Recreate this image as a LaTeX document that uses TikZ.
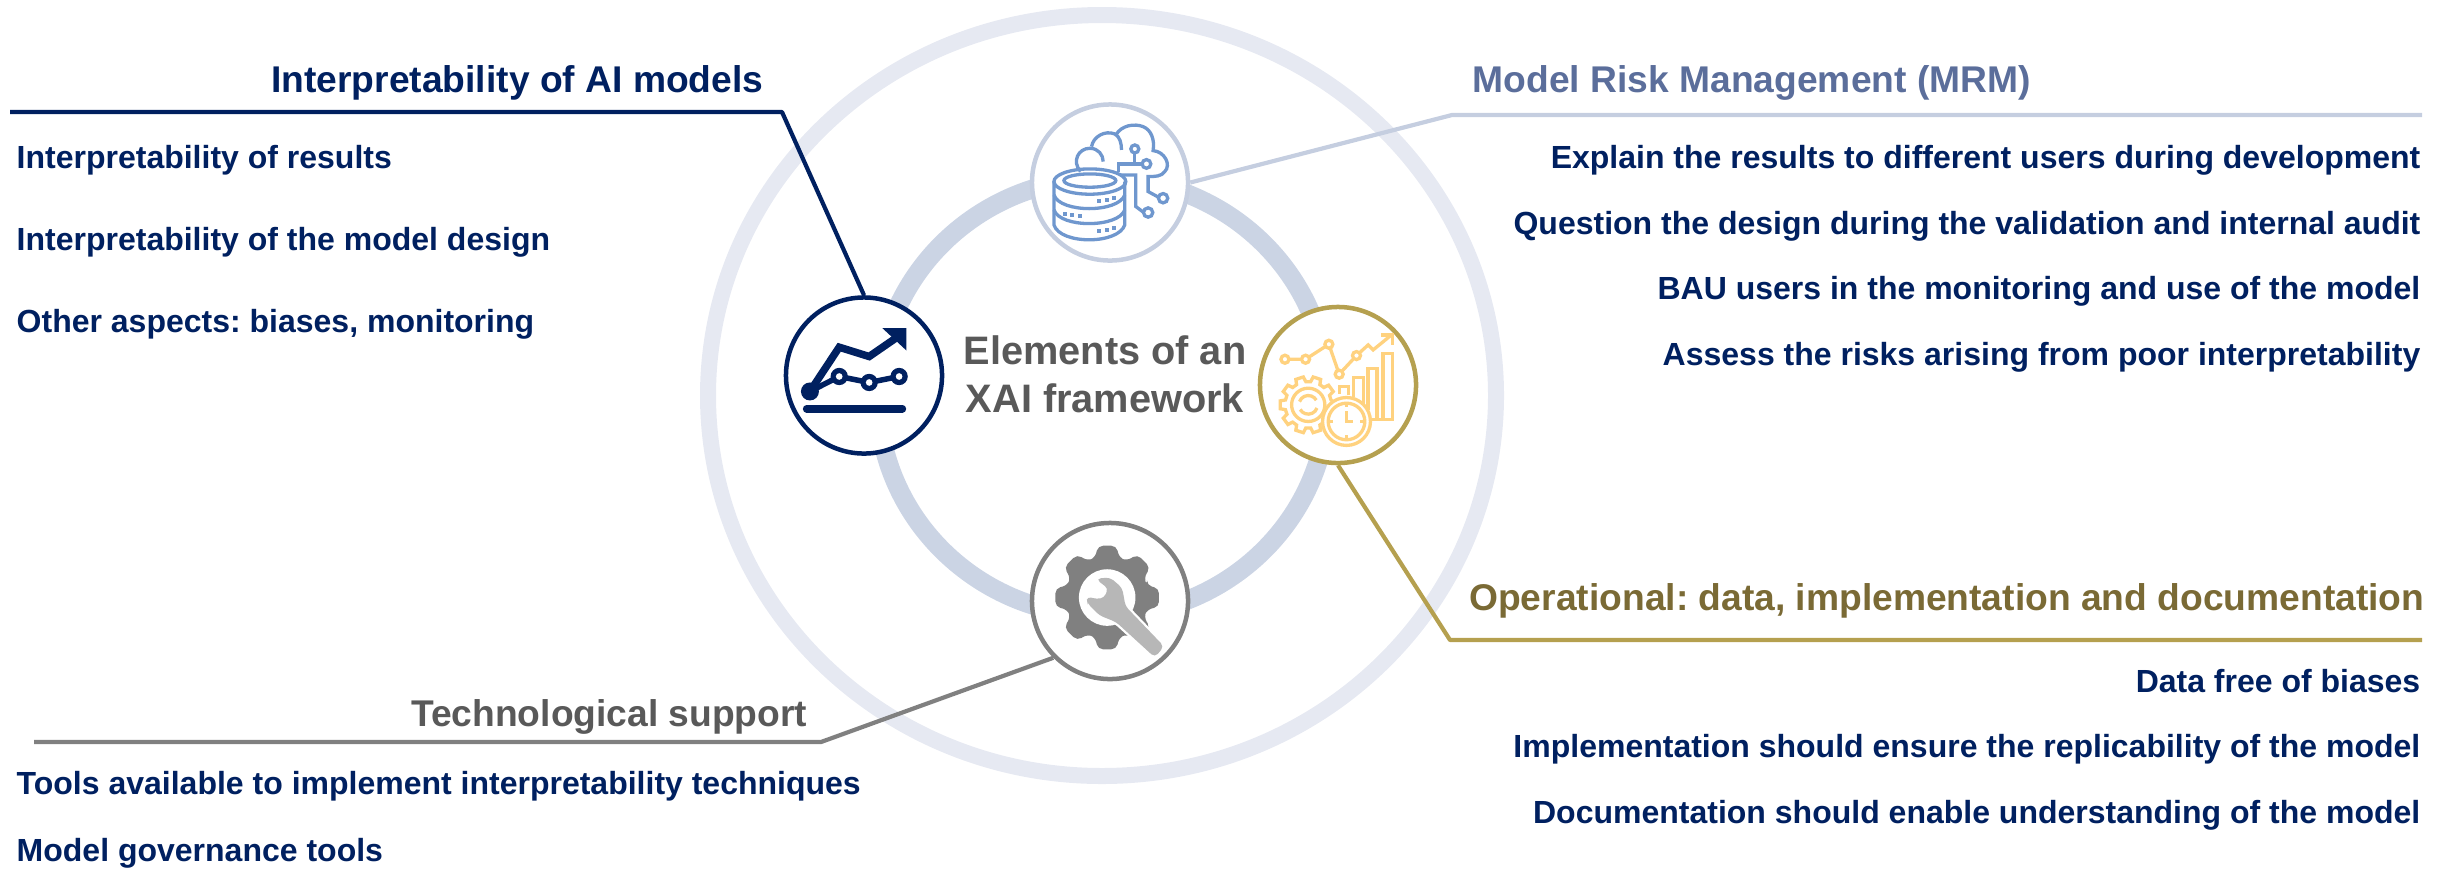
\documentclass[tikz,border=0pt]{standalone}
\usepackage{fontspec}
\setmainfont{Liberation Sans}
\frenchspacing
\usepackage{xcolor}
\usepackage{tikz}
\usetikzlibrary{calc}
\definecolor{navy}{HTML}{002060}
\definecolor{mrmline}{HTML}{C5CEE0}
\definecolor{mrmtext}{HTML}{5B6E9B}
\definecolor{goldline}{HTML}{B5A04F}
\definecolor{goldtext}{HTML}{7A6A35}
\definecolor{techline}{HTML}{808080}
\definecolor{techtext}{HTML}{595959}
\definecolor{outerring}{HTML}{E6E9F2}
\definecolor{innerring}{HTML}{CBD4E4}
\definecolor{cloudblue}{HTML}{6F97CE}
\definecolor{amber}{HTML}{FFD27F}
\definecolor{wrenchgray}{HTML}{B7B7B7}

\begin{document}
\begin{tikzpicture}[x=.01cm,y=-.01cm,font=\bfseries]
\tikzset{iconcircle/.style = {draw, circle, fill=white, line width=.45mm,
  minimum size=1.56cm, inner sep=0pt},
  title/.style = {inner sep=0pt, font=\fontsize{10.58}{13}\selectfont\bfseries},
  item/.style = {inner sep=0pt, text=navy, font=\fontsize{9.1}{11}\selectfont\bfseries},
  leader/.style = {line width=.42mm, line join=round},
  zoomed/.style = {x=.00333cm, y=-.00333cm}}
\pgfdeclarelayer{background}
\pgfdeclarelayer{foreground}
\pgfsetlayers{background,main,foreground}

\useasboundingbox (0,0) rectangle (2446,869);

  \begin{pgfonlayer}{background}
    \draw[outerring, line width=1.6mm] (1102,395.5) ellipse [x radius=394, y radius=380.5];
    \draw[innerring, line width=1.9mm] (1103,397) ellipse [x radius=225, y radius=219];
  \end{pgfonlayer}

  \begin{pgfonlayer}{foreground}
    \node[iconcircle, draw=navy] (interpcircle) at (864,375.5) {};
    \node[iconcircle, draw=mrmline] (mrmcircle) at (1110,182.5) {};
    \node[iconcircle, draw=goldline] (opcircle) at (1338,385) {};
    \node[iconcircle, draw=techline] (techcircle) at (1110,601) {};

    % chart icon
    \begin{scope}[shift={(760,260)}, zoomed]
      \draw[navy, line width=.75mm, line join=miter] (150,395) -- (238,262) -- (328,290) -- (412,232);
      \fill[navy] (368,205) -- (440,205) -- (440,272) -- cycle;
      \draw[navy, line width=.55mm] (150,395) -- (238,350) -- (328,368) -- (418,350);
      \fill[navy] (150,395) circle [radius=27];
      \foreach \px/\py in {238/350, 328/368, 418/350} {
        \fill[navy] (\px,\py) circle [radius=26];
        \fill[white] (\px,\py) circle [radius=10];
      }
      \draw[navy, line width=.75mm, line cap=round] (140,447) -- (428,447);
    \end{scope}

    % database and cloud icon
    \begin{scope}[shift={(1010,110)}, zoomed, cloudblue, line width=.33mm]
      \draw (240,215) ellipse [x radius=108, y radius=38];
      \draw (240,212) ellipse [x radius=78, y radius=20];
      \draw (132,215) -- (132,345) .. controls (150,405) and (325,405) .. (345,345) -- (345,215);
      \draw (132,255) .. controls (150,310) and (325,310) .. (345,255);
      \draw (132,300) .. controls (150,355) and (325,355) .. (345,300);
      \foreach \px/\py in {268/272, 290/270, 312/265, 165/312, 187/316, 210/318, 268/363, 290/362, 312/355}
        \fill (\px-6,\py-6) rectangle (\px+6,\py+6);
      \draw (212,185) .. controls (185,155) and (205,115) .. (240,115)
        .. controls (265,115) and (280,135) .. (280,155);
      \draw (245,110) .. controls (250,80) and (285,60) .. (315,72)
        .. controls (330,80) and (335,100) .. (335,120);
      \draw (318,75) .. controls (335,45) and (375,40) .. (400,50)
        .. controls (425,60) and (435,90) .. (430,122)
        .. controls (465,125) and (485,165) .. (465,185)
        .. controls (455,200) and (435,200) .. (415,200) -- (415,245) -- (448,263);
      \draw (375,128) -- (375,158);
      \draw (325,185) -- (325,162) -- (398,162);
      \draw (330,195) -- (378,195) -- (378,290) -- (402,308);
      \foreach \px/\py/\pr in {375/117/12, 410/162/13, 415/308/14, 460/265/14}
        \draw (\px,\py) circle [radius=\pr];
    \end{scope}

    % gear, clock and bars icon
    \begin{scope}[shift={(1240,290)}, zoomed, amber, line width=.33mm]
      \draw (135,208) -- (197,208) -- (267,163) -- (298,253) -- (350,197) -- (385,165) -- (400,180) -- (455,135);
      \draw (425,135) -- (458,135) -- (458,165);
      \foreach \px/\py in {135/208, 197/208, 267/163, 298/253, 350/197}
        \draw[fill=white] (\px,\py) circle [radius=12];
      \draw (430,390) -- (430,190) -- (458,190) -- (458,390) -- (395,390);
      \draw (385,360) -- (385,235) -- (412,235) -- (412,390);
      \draw (342,320) -- (342,262) -- (370,262) -- (370,345);
      \draw (298,312) -- (298,290) -- (325,290) -- (325,315);
      \begin{scope}[shift={(205,345)}]
        \draw[fill=white] (0:85) \foreach \gearangle in {0,36,...,324} {
          -- (\gearangle-8:85) -- (\gearangle+8:85) -- (\gearangle+12:70) -- (\gearangle+24:70) } -- cycle;
        \draw (0,0) circle [radius=50];
        \draw (20:28) arc (20:150:28);
        \draw (200:28) arc (200:330:28);
      \end{scope}
      \begin{scope}[shift={(320,395)}]
        \draw[fill=white] (0,0) circle [radius=72];
        \draw (0,0) circle [radius=55];
        \draw (0,-30) -- (0,0) -- (20,0);
        \foreach \tickangle in {0,90,180,270}
          \draw (\tickangle:55) -- (\tickangle:42);
      \end{scope}
    \end{scope}

    % gear and wrench icon
    \begin{scope}[shift={(1010,500)}, zoomed]
      \begin{scope}[shift={(292,293)}]
        \fill[techline, rounded corners=.5mm] (-17:125) \foreach \gearangle in {0,45,...,315} {
          -- (\gearangle-17:125) -- (\gearangle-10:158) -- (\gearangle+10:158) -- (\gearangle+17:125) } -- cycle;
        \fill[white] (0,0) circle [radius=85];
      \end{scope}
      \filldraw[wrenchgray, rounded corners=.4mm, preaction={draw=white, line width=.6mm}]
        (262,238) -- (300,235) -- (335,265) -- (345,320) -- (460,440) -- (435,470)
        -- (320,365) -- (270,345) -- (235,310) -- (232,292) -- (260,300) -- (285,295) -- (297,265) -- cycle;
    \end{scope}
  \end{pgfonlayer}

  % leaders from each circle to the free end of its rule
  \coordinate (interpelbow) at (782,112);
  \coordinate (interpend) at (10,112);
  \coordinate (mrmelbow) at (1452,115);
  \coordinate (mrmend) at (2422,115);
  \coordinate (opelbow) at (1450,640);
  \coordinate (opend) at (2422,640);
  \coordinate (techelbow) at (821,742);
  \coordinate (techend) at (34,742);
  \draw[leader, navy] (interpcircle.north) -- (interpelbow) -- (interpend);
  \draw[leader, mrmline] (mrmcircle.east) -- (mrmelbow) -- (mrmend);
  \draw[leader, goldline] (opcircle.south) -- (opelbow) -- (opend);
  \draw[leader, techline] (techcircle.south west) -- (techelbow) -- (techend);

  \node[title, text=navy, anchor=base east] (interptitle) at (764,92) {Interpretability of AI models};
  \node[item, anchor=base west] (interpa) at (16,168) {Interpretability of results};
  \node[item, anchor=base west] (interpb) at (16,250) {Interpretability of the model design};
  \node[item, anchor=base west] (interpc) at (16,332) {Other aspects: biases, monitoring};

  \node[title, text=mrmtext, anchor=base west] (mrmtitle) at (1472,92) {Model Risk Management (MRM)};
  \node[item, anchor=base east] (mrma) at (2421,168) {Explain the results to different users during development};
  \node[item, anchor=base east] (mrmb) at (2421,234) {Question the design during the validation and internal audit};
  \node[item, anchor=base east] (mrmc) at (2421,299) {BAU users in the monitoring and use of the model};
  \node[item, anchor=base east] (mrmd) at (2421,365) {Assess the risks arising from poor interpretability};

  \node[title, text=goldtext, anchor=base east] (optitle) at (2425,610) {Operational: data, implementation and documentation};
  \node[item, anchor=base east] (opa) at (2421,692) {Data free of biases};
  \node[item, anchor=base east] (opb) at (2421,757) {Implementation should ensure the replicability of the model};
  \node[item, anchor=base east] (opc) at (2421,823) {Documentation should enable understanding of the model};

  \node[title, text=techtext, anchor=base east] (techtitle) at (808,726) {Technological support};
  \node[item, anchor=base west] (techa) at (16,794) {Tools available to implement interpretability techniques};
  \node[item, anchor=base west] (techb) at (16,861) {Model governance tools};

  \node[inner sep=0pt, text=techtext, align=center, anchor=base,
    font=\fontsize{11.3}{13.65}\selectfont\bfseries] (frameworklabel) at (1105,412)
    {Elements of an\\XAI framework};
\end{tikzpicture}
\end{document}
